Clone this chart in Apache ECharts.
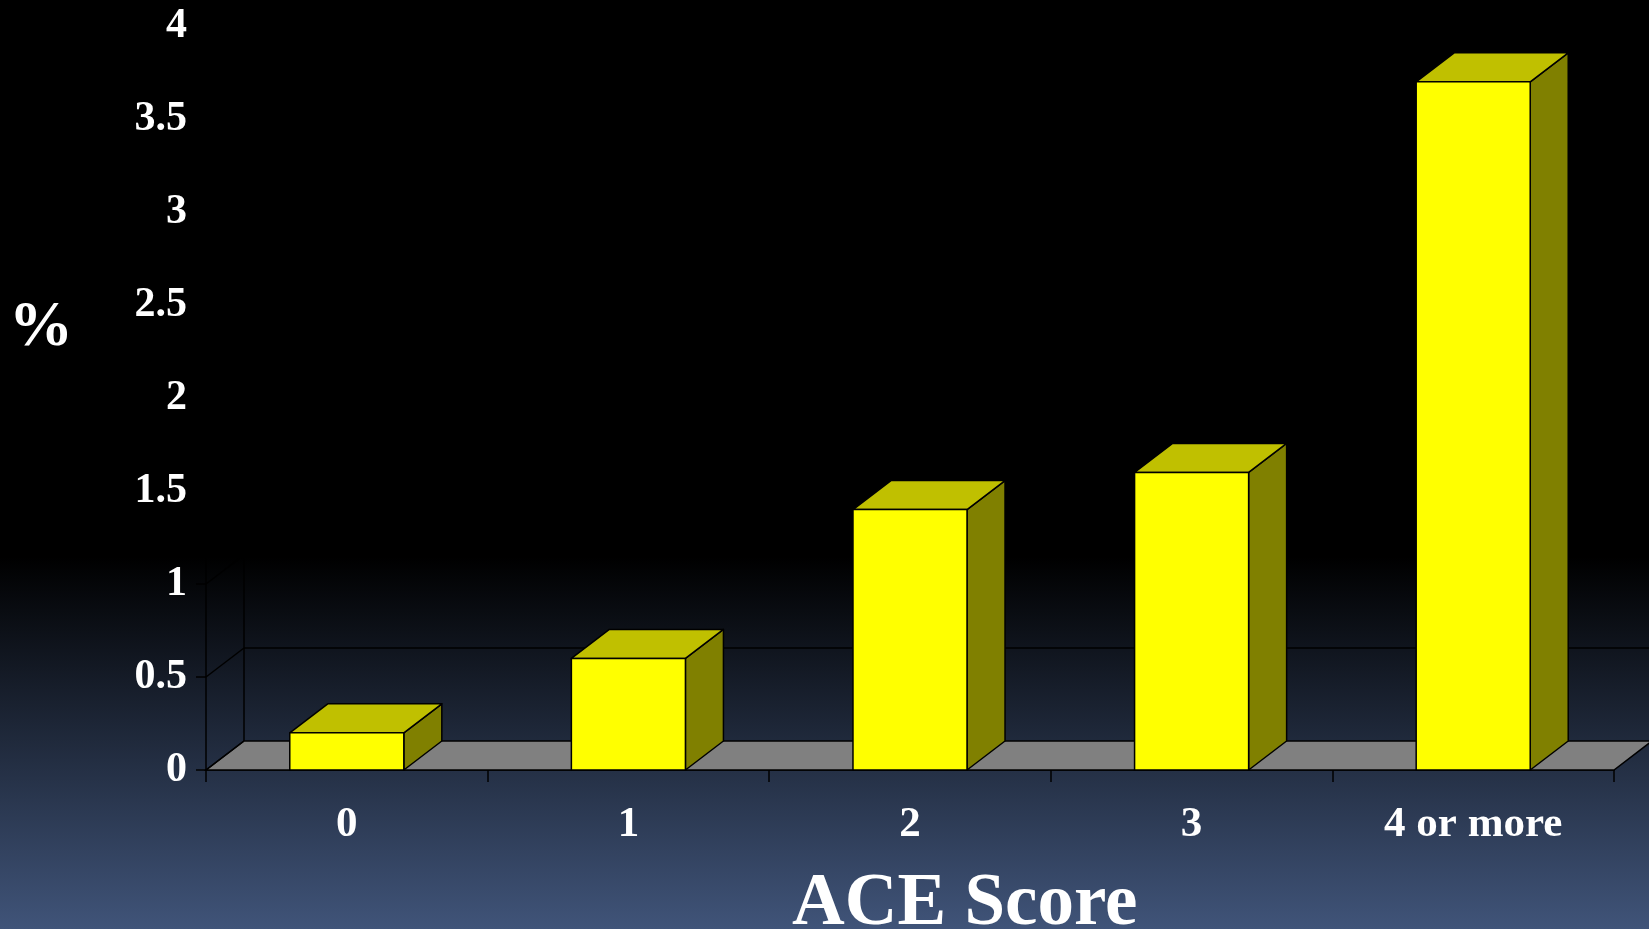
<!DOCTYPE html>
<html>
<head>
<meta charset="utf-8">
<script src="https://cdn.jsdelivr.net/npm/echarts@6/dist/echarts.min.js"></script>
<style>
  html, body { margin: 0; padding: 0; background: #000; }
  #main { width: 1649px; height: 929px; }
</style>
</head>
<body>
<div id="main"></div>
<script>
'use strict'
// ACE score chart, 3d style bars

var categories = ['0', '1', '2', '3', '4 or more'];
var values = [0.2, 0.6, 1.4, 1.6, 3.7];
var yTicks = [0, 0.5, 1, 1.5, 2, 2.5, 3, 3.5, 4];

var font = 'Liberation Serif';
var depthX = 38, depthY = -29;

function renderFrame(params, api) {
    var cs = params.coordSys;
    var v = api.value(1);
    var p = api.coord([0, v]);
    var y = p[1];
    var x0 = cs.x, x1 = cs.x + cs.width;
    var line = { stroke: '#000', lineWidth: 1.5 };
    var children = [];
    if (v === 0) {
        children.push({
            type: 'polygon',
            shape: { points: [[x0, y], [x1, y], [x1 + depthX, y + depthY], [x0 + depthX, y + depthY]] },
            style: { fill: '#808080', stroke: '#000', lineWidth: 1.5 }
        });
        children.push({
            type: 'line',
            shape: { x1: x0 + depthX, y1: y + depthY, x2: x0 + depthX, y2: cs.y + depthY },
            style: line
        });
    } else {
        children.push({
            type: 'line',
            shape: { x1: x0 + depthX, y1: y + depthY, x2: x1 + depthX + 40, y2: y + depthY },
            style: line
        });
    }
    children.push({
        type: 'line',
        shape: { x1: x0, y1: y, x2: x0 + depthX, y2: y + depthY },
        style: line
    });
    return { type: 'group', children: children };
}

function renderBar(params, api) {
    var base = api.coord([api.value(0), 0]);
    var top = api.coord([api.value(0), api.value(1)]);
    var w = api.size([1, 0])[0] * 0.405;
    var xa = base[0] - w / 2, xb = base[0] + w / 2;
    var yt = top[1], yb = base[1];
    var edge = { stroke: '#000', lineWidth: 1.5, lineJoin: 'round' };
    return {
        type: 'group',
        children: [
            {
                type: 'polygon',
                shape: { points: [[xb, yt], [xb + depthX, yt + depthY], [xb + depthX, yb + depthY], [xb, yb]] },
                style: Object.assign({ fill: '#808000' }, edge)
            },
            {
                type: 'polygon',
                shape: { points: [[xa, yt], [xa + depthX, yt + depthY], [xb + depthX, yt + depthY], [xb, yt]] },
                style: Object.assign({ fill: '#c0c000' }, edge)
            },
            {
                type: 'rect',
                shape: { x: xa, y: yt, width: w, height: yb - yt },
                style: Object.assign({ fill: '#ffff00' }, edge)
            }
        ]
    };
}

var option = {
    animation: false,
    backgroundColor: {
        type: 'linear', x: 0, y: 0, x2: 0, y2: 1,
        colorStops: [
            { offset: 0, color: '#000000' },
            { offset: 0.6, color: '#000000' },
            { offset: 1, color: '#405479' }
        ]
    },
    title: [
        {
            text: 'ACE Score',
            left: 787,
            top: 864,
            textStyle: { color: '#fff', fontFamily: font, fontWeight: 'bold', fontSize: 73 }
        },
        {
            text: '%',
            left: 4,
            top: 291,
            textStyle: { color: '#fff', fontFamily: font, fontWeight: 'bold', fontSize: 64 }
        }
    ],
    grid: {
        left: 206,
        right: 35,
        top: 26,
        bottom: 159
    },
    xAxis: {
        type: 'category',
        data: categories,
        axisLine: { lineStyle: { color: '#000', width: 1.5 } },
        axisTick: { show: true, interval: 0, length: 12, lineStyle: { color: '#000', width: 1.5 } },
        axisLabel: {
            color: '#fff', fontFamily: font, fontWeight: 'bold', fontSize: 43, margin: 33
        }
    },
    yAxis: {
        type: 'value',
        min: 0,
        max: 4,
        interval: 0.5,
        axisLine: { show: true, lineStyle: { color: '#000', width: 1.5 } },
        axisTick: { show: true, length: 10, lineStyle: { color: '#000', width: 1.5 } },
        splitLine: { show: false },
        axisLabel: {
            color: '#fff', fontFamily: font, fontWeight: 'bold', fontSize: 42, margin: 19
        }
    },
    series: [
        {
            type: 'custom',
            renderItem: renderFrame,
            encode: { x: 0, y: 1 },
            silent: true,
            z: 1,
            data: yTicks.map(function (v) { return [0, v]; })
        },
        {
            type: 'custom',
            renderItem: renderBar,
            encode: { x: 0, y: 1 },
            z: 2,
            data: values.map(function (v, i) { return [i, v]; })
        }
    ]
};

var myChart = echarts.init(document.getElementById('main'));
myChart.setOption(option);
</script>
</body>
</html>
